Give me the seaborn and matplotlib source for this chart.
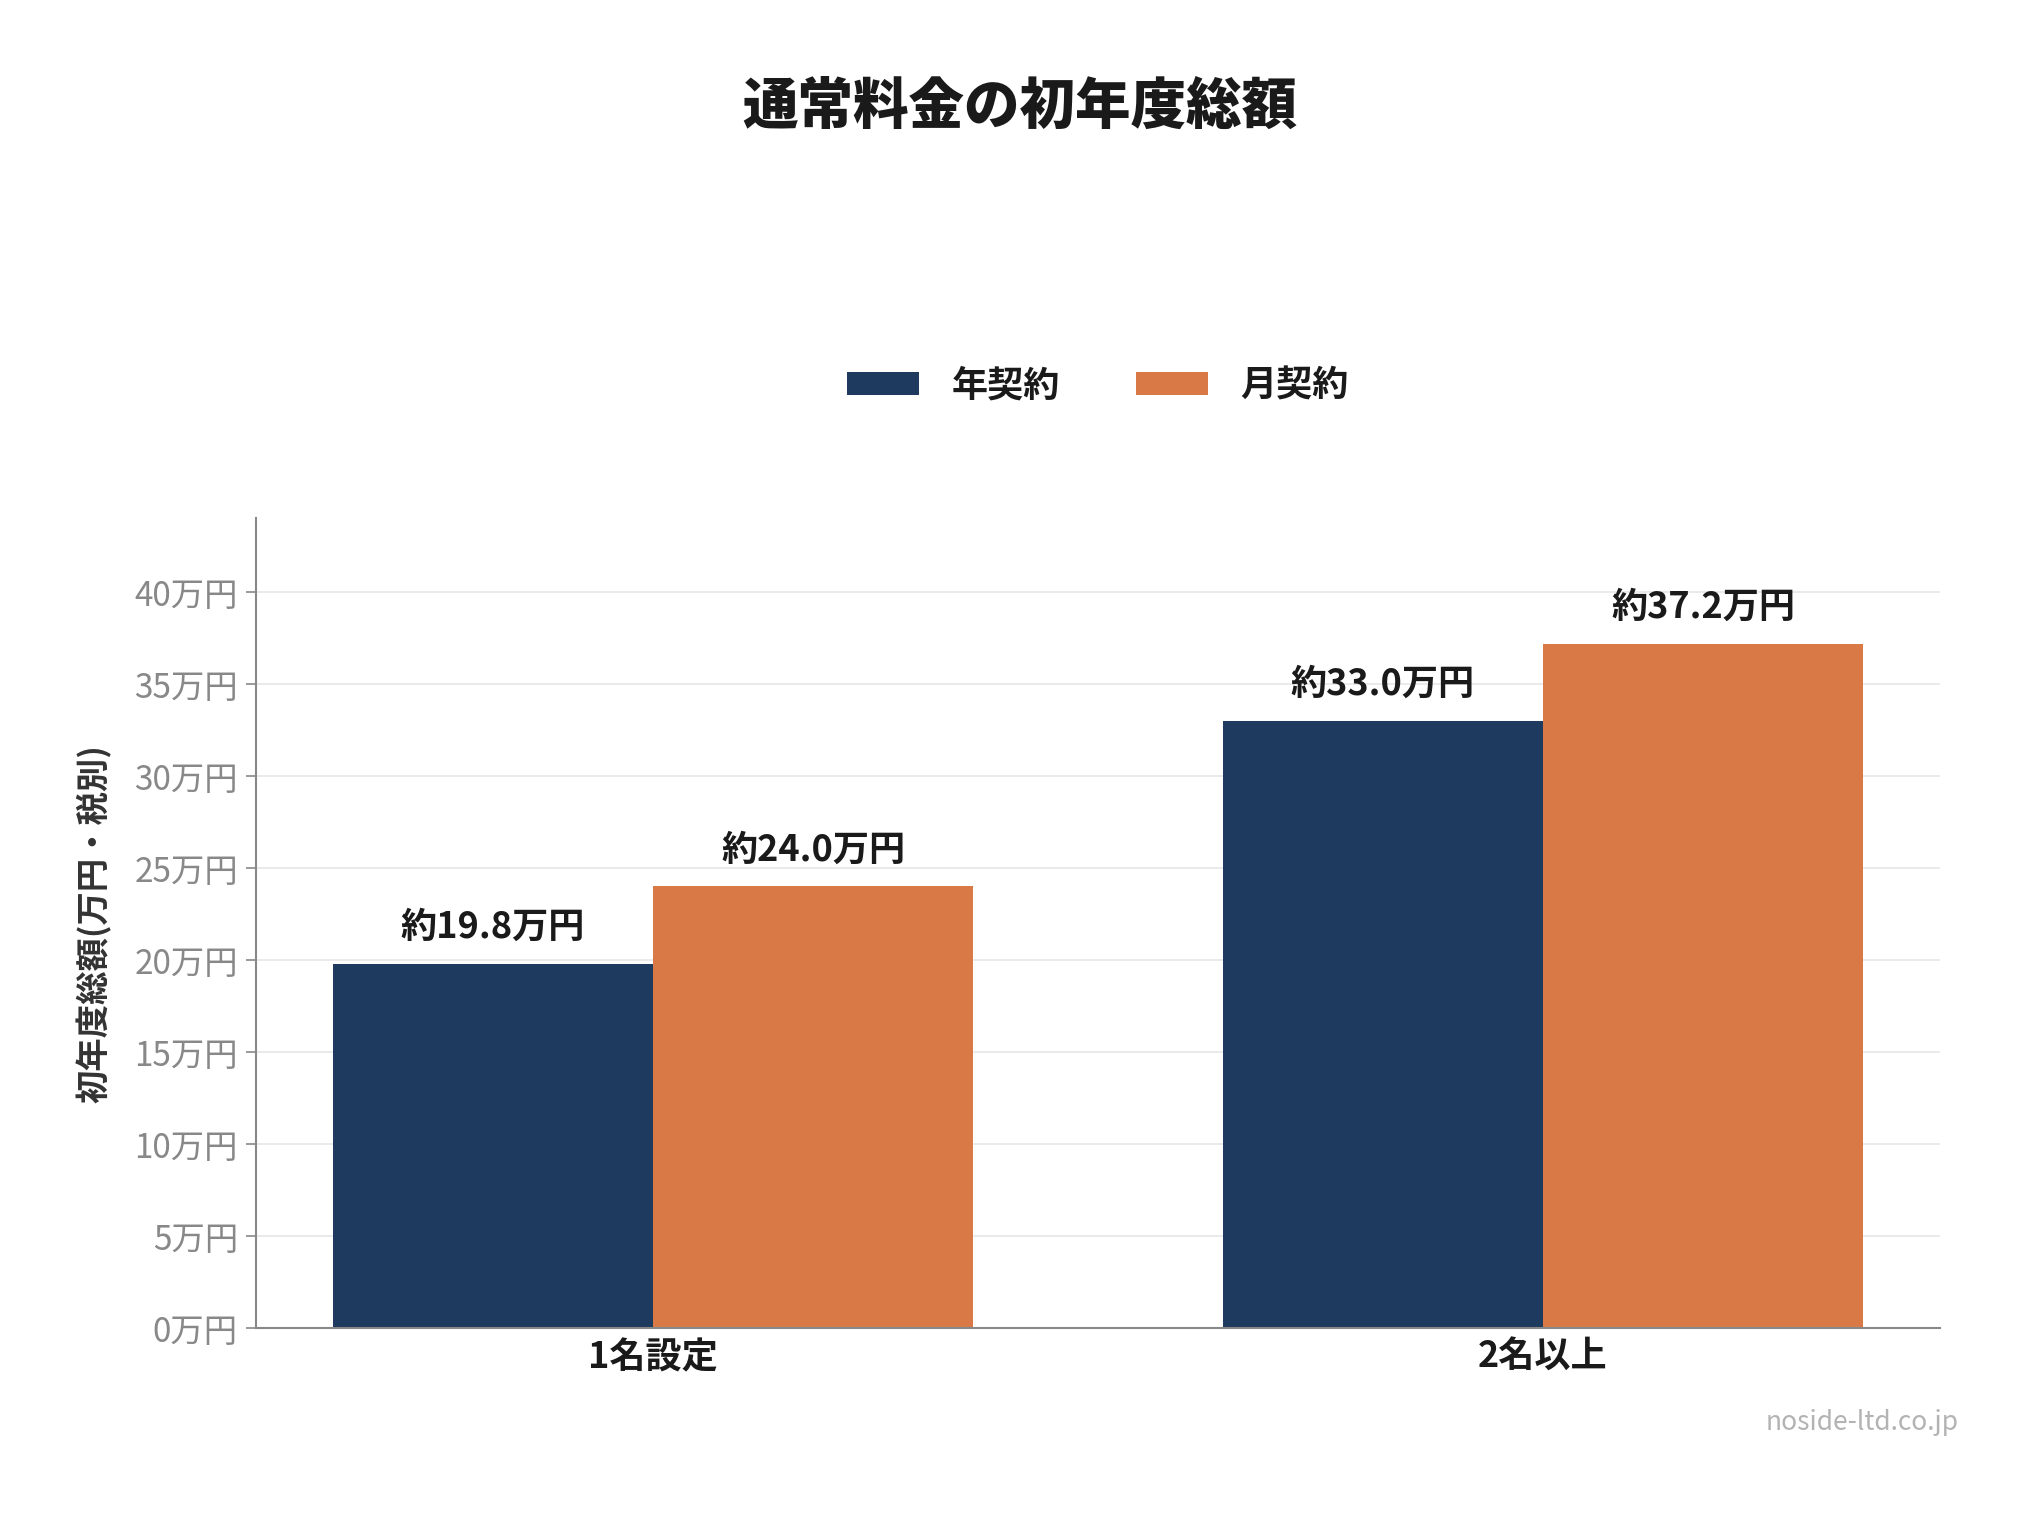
import seaborn as sns
import matplotlib.pyplot as plt
import pandas as pd
from matplotlib.ticker import FuncFormatter, MultipleLocator

# データ
plans = ['1名設定', '2名以上']
contracts = ['年契約', '月契約']
annual_total = [19.8, 33.0]
monthly_total = [24.0, 37.2]
colors = ['#1E3A5F', '#D97946']

df = pd.DataFrame({
    'plan': plans * 2,
    'contract': [contracts[0]] * 2 + [contracts[1]] * 2,
    'total': annual_total + monthly_total,
})

sns.set_theme(style='white')
plt.rcParams['font.family'] = ['Noto Sans CJK JP', 'DejaVu Sans']

fig = plt.figure(figsize=(20.4, 15.16), dpi=100)
ax = fig.add_axes([0.1255, 0.124, 0.8255, 0.534])

sns.barplot(data=df, x='plan', y='total', hue='contract', hue_order=contracts,
            palette=colors, width=0.72, gap=0, saturation=1, linewidth=0, ax=ax)

for cont in ax.containers:
    ax.bar_label(cont, labels=[f'約{b.get_height():.1f}万円' for b in cont],
                 padding=13, fontsize=26, fontweight='bold', color='#1a1a1a')

ax.set_xlim(-0.446, 1.446)
ax.set_ylim(0, 44)
ax.yaxis.set_major_locator(MultipleLocator(5))
ax.yaxis.set_major_formatter(FuncFormatter(lambda v, p: f'{int(v)}万円'))
ax.grid(axis='y', color='#e6e6e6', linewidth=1.2)
ax.set_axisbelow(True)

for side in ['top', 'right']:
    ax.spines[side].set_visible(False)
for side in ['left', 'bottom']:
    ax.spines[side].set_color('#888888')
    ax.spines[side].set_linewidth(1.5)

ax.tick_params(axis='y', labelsize=24, labelcolor='#888888', color='#888888',
               length=7, width=1.2, left=True, pad=6)
ax.tick_params(axis='x', labelsize=26, labelcolor='#1a1a1a', length=0, pad=8)
for lab in ax.get_xticklabels():
    lab.set_fontweight('bold')

ax.set_xlabel('')
ax.set_ylabel('初年度総額(万円・税別)', fontsize=24, fontweight='bold',
              color='#333333', labelpad=16)

sns.move_legend(ax, 'center', bbox_to_anchor=(0.5, 1.164), ncol=2, title=None,
                frameon=False, fontsize=26, handlelength=2.0, handleheight=0.64,
                handletextpad=0.9, columnspacing=2.1)
for t in ax.get_legend().get_texts():
    t.set_fontweight('bold')
    t.set_color('#1a1a1a')

fig.suptitle('通常料金の初年度総額', x=0.5, y=0.948, fontsize=40,
             fontweight='black', color='#1a1a1a')

fig.text(0.96, 0.062, 'noside-ltd.co.jp', ha='right', va='center',
         fontsize=19, color='#b3b3b3')

fig.savefig('out.png', dpi=100)
